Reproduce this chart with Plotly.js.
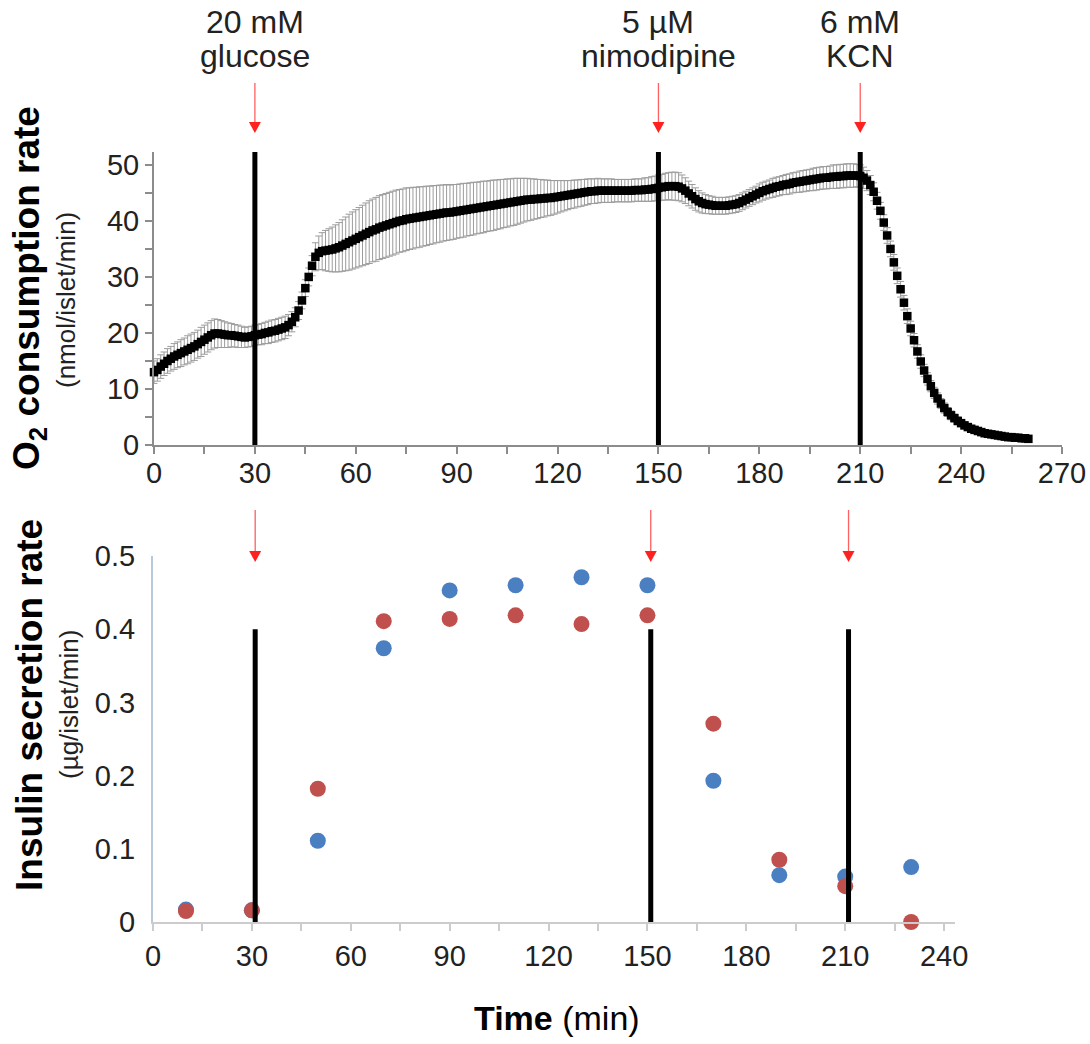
<!DOCTYPE html>
<html>
<head>
<meta charset="utf-8">
<script src="https://cdn.plot.ly/plotly-3.0.1.min.js"></script>
<style>
  html, body { margin: 0; padding: 0; background: #fff; }
  #chart { width: 1090px; height: 1044px; }
</style>
</head>
<body>
<div id="chart"></div>
<script>
// O2 consumption rate (nmol/islet/min), one reading per minute from t = 0 to 260 min
const o2Mean = [
  13.0,13.4,14.0,14.5,15.0,15.4,15.8,16.1,16.4,16.7,
  17.0,17.3,17.6,18.0,18.4,18.8,19.2,19.6,19.9,19.9,
  19.8,19.7,19.6,19.6,19.5,19.4,19.3,19.2,19.3,19.4,
  19.6,19.7,19.8,20.0,20.1,20.3,20.4,20.6,20.8,21.0,
  21.4,22.0,22.8,24.0,25.8,28.0,30.0,32.0,33.6,34.3,
  34.6,34.7,34.8,34.9,35.1,35.3,35.6,35.9,36.2,36.5,
  36.8,37.1,37.4,37.7,38.0,38.3,38.5,38.8,39.0,39.2,
  39.4,39.6,39.8,40.0,40.1,40.3,40.4,40.5,40.6,40.7,
  40.8,40.9,41.0,41.1,41.2,41.3,41.4,41.5,41.5,41.6,
  41.7,41.8,41.9,42.0,42.1,42.2,42.3,42.4,42.5,42.6,
  42.7,42.8,42.9,43.0,43.1,43.2,43.3,43.4,43.5,43.6,
  43.7,43.8,43.8,43.9,43.9,44.0,44.0,44.1,44.1,44.2,
  44.3,44.4,44.5,44.6,44.7,44.8,44.9,45.0,45.1,45.2,
  45.3,45.3,45.4,45.4,45.4,45.4,45.4,45.4,45.4,45.4,
  45.4,45.4,45.4,45.5,45.5,45.5,45.6,45.6,45.7,45.8,
  45.9,46.0,46.1,46.2,46.2,46.2,46.1,45.8,45.4,44.9,
  44.4,43.9,43.5,43.2,43.0,42.9,42.8,42.7,42.7,42.7,
  42.7,42.8,42.9,43.0,43.2,43.5,43.8,44.1,44.4,44.7,
  45.0,45.3,45.5,45.7,45.9,46.1,46.2,46.4,46.5,46.6,
  46.8,46.9,47.0,47.1,47.2,47.3,47.4,47.5,47.6,47.7,
  47.7,47.8,47.9,47.9,48.0,48.0,48.1,48.1,48.1,48.1,
  48.0,47.7,47.2,46.4,45.2,43.6,41.8,39.7,37.4,35.0,
  32.6,30.2,27.8,25.4,23.0,20.8,18.7,16.7,14.9,13.3,
  11.8,10.5,9.3,8.3,7.4,6.6,5.9,5.3,4.8,4.3,
  3.9,3.5,3.2,2.9,2.7,2.5,2.3,2.1,2.0,1.9,
  1.8,1.7,1.6,1.5,1.4,1.4,1.3,1.3,1.2,1.2,1.1
];

// Standard deviation of each O2 reading
const o2Sd = [
  2.0,2.0,2.1,2.1,2.2,2.2,2.3,2.3,2.4,2.4,
  2.5,2.5,2.5,2.5,2.6,2.6,2.6,2.6,2.6,2.5,
  2.4,2.3,2.2,2.1,2.0,2.0,1.9,1.8,1.8,1.8,
  1.8,1.8,1.9,1.9,2.0,2.0,2.0,2.0,2.0,2.0,
  1.9,1.8,1.7,1.6,1.5,1.5,1.6,1.8,2.5,3.0,
  3.3,3.6,3.8,4.0,4.2,4.4,4.6,4.8,5.0,5.1,
  5.2,5.3,5.4,5.5,5.6,5.6,5.7,5.7,5.7,5.7,
  5.7,5.7,5.7,5.6,5.6,5.6,5.5,5.5,5.4,5.4,
  5.3,5.3,5.2,5.2,5.1,5.1,5.0,5.0,4.9,4.9,
  4.8,4.8,4.8,4.7,4.7,4.7,4.6,4.6,4.6,4.5,
  4.5,4.5,4.4,4.4,4.3,4.3,4.2,4.2,4.1,4.0,
  3.9,3.8,3.7,3.6,3.5,3.4,3.3,3.2,3.1,3.0,
  2.9,2.8,2.7,2.6,2.5,2.5,2.4,2.4,2.3,2.3,
  2.2,2.2,2.2,2.1,2.1,2.1,2.1,2.0,2.0,2.0,
  2.0,2.0,2.0,2.0,2.0,2.0,2.1,2.1,2.2,2.2,
  2.3,2.3,2.4,2.4,2.5,2.5,2.5,2.4,2.3,2.2,
  2.1,2.0,1.9,1.8,1.7,1.6,1.6,1.5,1.5,1.5,
  1.5,1.5,1.5,1.5,1.5,1.5,1.5,1.5,1.5,1.5,
  1.6,1.6,1.6,1.6,1.7,1.7,1.7,1.7,1.8,1.8,
  1.8,1.8,1.9,1.9,1.9,1.9,2.0,2.0,2.0,2.0,
  2.0,2.0,2.1,2.1,2.1,2.1,2.1,2.1,2.1,2.0,
  2.0,1.9,1.8,1.7,1.6,1.5,1.5,1.4,1.4,1.4,
  1.4,1.4,1.4,1.3,1.3,1.3,1.2,1.2,1.2,1.1,
  1.1,1.0,1.0,1.0,0.9,0.9,0.8,0.8,0.7,0.7,
  0.6,0.6,0.5,0.5,0.5,0.4,0.4,0.4,0.3,0.3,
  0.3,0.3,0.3,0.2,0.2,0.2,0.2,0.2,0.2,0.2,0.2
];
const o2Minutes = o2Mean.map((_, i) => i);

// Insulin secretion rate (µg/islet/min), fractions collected every 20 min
const sampleTimes  = [10, 30, 50, 70, 90, 110, 130, 150, 170, 190, 210, 230];
const insulinBlue  = [0.017, 0.016, 0.111, 0.374, 0.453, 0.460, 0.471, 0.460, 0.193, 0.064, 0.062, 0.075];
const insulinRed   = [0.015, 0.016, 0.182, 0.411, 0.414, 0.419, 0.407, 0.419, 0.271, 0.085, 0.049, 0.000];

// Additions during perifusion
const additionTimes  = [30, 150, 210];
const additionDose   = ['20 mM', '5 µM', '6 mM'];
const additionAgent  = ['glucose', 'nimodipine', 'KCN'];
const secretionLineX = [31, 151, 211];

// Tick labels
const o2TickVals    = [0, 30, 60, 90, 120, 150, 180, 210, 240, 270];
const o2YTickVals   = [0, 10, 20, 30, 40, 50];
const insTickVals   = [0, 30, 60, 90, 120, 150, 180, 210, 240];
const insYTickVals  = [0, 0.1, 0.2, 0.3, 0.4, 0.5];
const insYTickText  = ['0', '0.1', '0.2', '0.3', '0.4', '0.5'];

// ---- page geometry helpers (figure is 1090 x 1044 with zero margins) ----
const W = 1090, H = 1044;
const px = v => v / W;
const py = v => 1 - v / H;

const FONT = 'Liberation Sans, Arial, Helvetica, sans-serif';
const TXT = '#222222';

const traces = [
  {
    x: o2Minutes, y: o2Mean, xaxis: 'x', yaxis: 'y',
    type: 'scatter', mode: 'markers',
    marker: { symbol: 'square', size: 8.5, color: '#000000' },
    error_y: { type: 'data', array: o2Sd, visible: true, color: '#9c9c9c', thickness: 1, width: 3.5 },
    cliponaxis: false, hoverinfo: 'skip'
  },
  {
    x: sampleTimes, y: insulinBlue, xaxis: 'x2', yaxis: 'y2',
    type: 'scatter', mode: 'markers',
    marker: { symbol: 'circle', size: 16, color: '#4a7fc1' },
    cliponaxis: false, hoverinfo: 'skip'
  },
  {
    x: sampleTimes, y: insulinRed, xaxis: 'x2', yaxis: 'y2',
    type: 'scatter', mode: 'markers',
    marker: { symbol: 'circle', size: 16, color: '#c0504d' },
    cliponaxis: false, hoverinfo: 'skip'
  }
];

const shapes = [];
const annotations = [];

function label(opts) {
  return Object.assign({ showarrow: false, xanchor: 'center', yanchor: 'middle' }, opts);
}

// Vertical markers in both panels, red arrows above them
additionTimes.forEach((t, i) => {
  shapes.push({ type: 'line', xref: 'x', yref: 'y', x0: t, x1: t, y0: 0, y1: 52.3,
    line: { color: '#000', width: 5 }, layer: 'above' });
  shapes.push({ type: 'line', xref: 'x', yref: 'paper', x0: t, x1: t, y0: py(83), y1: py(124),
    line: { color: '#ff6060', width: 1.3 } });
  shapes.push({ type: 'path', xref: 'x', yref: 'paper', xsizemode: 'pixel', ysizemode: 'pixel',
    xanchor: t, yanchor: py(133), path: 'M -6 11 L 6 11 L 0 0 Z',
    fillcolor: '#ff2020', line: { width: 0 } });

  const t2 = secretionLineX[i];
  shapes.push({ type: 'line', xref: 'x2', yref: 'y2', x0: t2, x1: t2, y0: 0, y1: 0.4,
    line: { color: '#000', width: 5 }, layer: 'above' });
  shapes.push({ type: 'line', xref: 'x2', yref: 'paper', x0: t2, x1: t2, y0: py(510), y1: py(552),
    line: { color: '#ff6060', width: 1.3 } });
  shapes.push({ type: 'path', xref: 'x2', yref: 'paper', xsizemode: 'pixel', ysizemode: 'pixel',
    xanchor: t2, yanchor: py(562), path: 'M -6 11 L 6 11 L 0 0 Z',
    fillcolor: '#ff2020', line: { width: 0 } });

  annotations.push(label({ xref: 'x', yref: 'paper', x: t, y: py(22), text: additionDose[i],
    font: { family: FONT, size: 32, color: TXT } }));
  annotations.push(label({ xref: 'x', yref: 'paper', x: t, y: py(56), text: additionAgent[i],
    font: { family: FONT, size: 32, color: TXT } }));
});

// Axis titles
annotations.push(label({ xref: 'paper', yref: 'paper', x: px(29), y: py(288), textangle: -90,
  text: '<b>O<sub>2</sub> consumption rate</b>',
  font: { family: FONT, size: 37, color: '#000' } }));
annotations.push(label({ xref: 'paper', yref: 'paper', x: px(66), y: py(300), textangle: -90,
  text: '(nmol/islet/min)',
  font: { family: FONT, size: 26, color: TXT } }));
annotations.push(label({ xref: 'paper', yref: 'paper', x: px(29), y: py(705), textangle: -90,
  text: '<b>Insulin secretion rate</b>',
  font: { family: FONT, size: 37, color: '#000' } }));
annotations.push(label({ xref: 'paper', yref: 'paper', x: px(69), y: py(705), textangle: -90,
  text: '(µg/islet/min)',
  font: { family: FONT, size: 26, color: TXT } }));
annotations.push(label({ xref: 'paper', yref: 'paper', x: px(557), y: py(1018),
  text: '<b>Time</b> (min)',
  font: { family: FONT, size: 34, color: '#000' } }));

const layout = {
  width: W, height: H,
  margin: { l: 0, r: 0, t: 0, b: 0 },
  paper_bgcolor: '#fff', plot_bgcolor: '#fff',
  showlegend: false,
  font: { family: FONT, color: TXT, size: 29 },
  xaxis: {
    domain: [px(154), px(1062)], range: [0, 270], anchor: 'y',
    showgrid: false, zeroline: false,
    showline: true, linecolor: '#8c8c8c', linewidth: 2,
    tickmode: 'array', tickvals: o2TickVals,
    ticks: 'outside', ticklen: 7, tickwidth: 2, tickcolor: '#8c8c8c',
    minor: { dtick: 15, tick0: 0, ticks: 'outside', ticklen: 7, tickwidth: 2, tickcolor: '#8c8c8c' },
    ticklabelstandoff: -6,
    tickfont: { family: FONT, size: 29, color: TXT }
  },
  yaxis: {
    domain: [py(445), py(152)], range: [0, 52.3], anchor: 'x',
    showgrid: false, zeroline: false,
    showline: true, linecolor: '#8c8c8c', linewidth: 2,
    tickmode: 'array', tickvals: o2YTickVals,
    ticks: 'outside', ticklen: 7, tickwidth: 2, tickcolor: '#8c8c8c',
    minor: { dtick: 5, tick0: 0, ticks: 'outside', ticklen: 7, tickwidth: 2, tickcolor: '#8c8c8c' },
    tickfont: { family: FONT, size: 29, color: TXT }
  },
  xaxis2: {
    domain: [px(153), px(955)], range: [0, 243.3], anchor: 'y2',
    showgrid: false, zeroline: false,
    showline: true, linecolor: '#cccccc', linewidth: 2,
    tickmode: 'array', tickvals: insTickVals,
    ticks: 'outside', ticklen: 7, tickwidth: 2, tickcolor: '#cccccc',
    minor: { dtick: 15, tick0: 0, ticks: 'outside', ticklen: 7, tickwidth: 2, tickcolor: '#cccccc' },
    tickfont: { family: FONT, size: 29, color: TXT }
  },
  yaxis2: {
    domain: [py(922), py(556)], range: [0, 0.5], anchor: 'x2',
    showgrid: false, zeroline: false,
    showline: true, linecolor: '#b8c9da', linewidth: 2,
    tickmode: 'array', tickvals: insYTickVals, ticktext: insYTickText,
    ticks: '', ticklabelstandoff: 10,
    tickfont: { family: FONT, size: 29, color: TXT }
  },
  shapes: shapes,
  annotations: annotations
};

Plotly.newPlot('chart', traces, layout, { staticPlot: true, displayModeBar: false });
</script>
</body>
</html>
